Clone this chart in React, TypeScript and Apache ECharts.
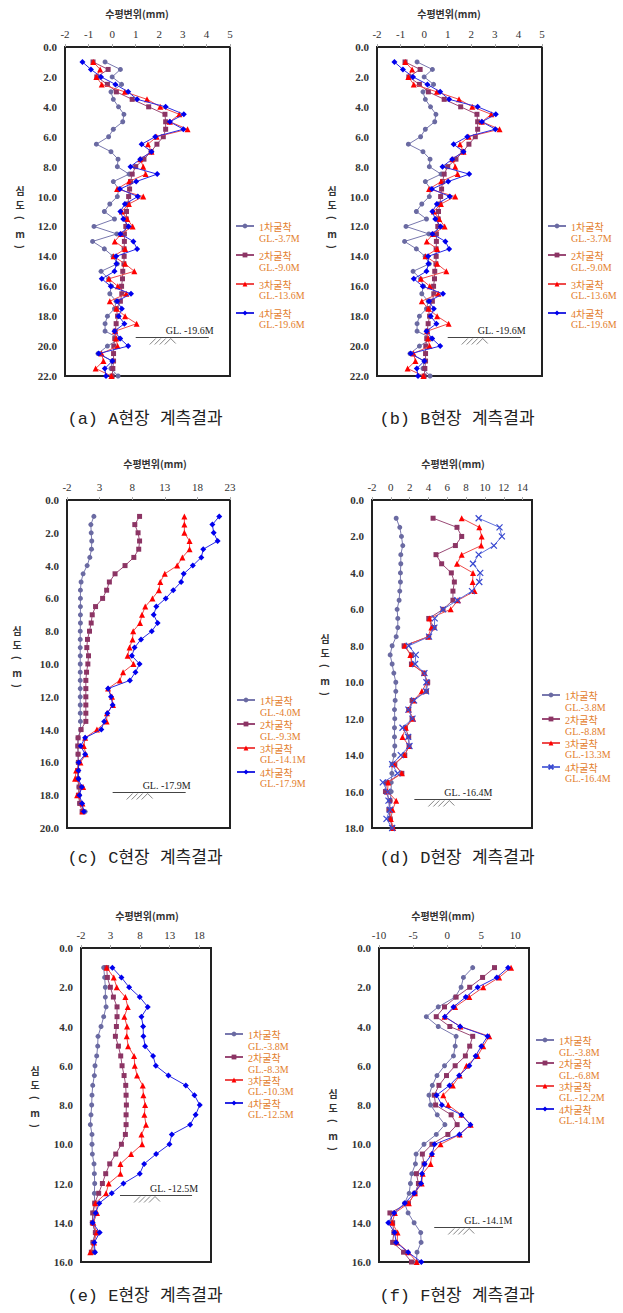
import React, { useEffect, useRef } from 'react';
import * as echarts from 'echarts';

// ---------- data ----------
const depthAB = [1.0, 1.5, 2.0, 2.5, 3.0, 3.5, 4.0, 4.5, 5.0, 5.5, 6.0, 6.5, 7.0, 7.5, 8.0, 8.5, 9.0, 9.5, 10.0, 10.5, 11.0, 11.5, 12.0, 12.5, 13.0, 13.5, 14.0, 14.5, 15.0, 15.5, 16.0, 16.5, 17.0, 17.5, 18.0, 18.5, 19.0, 19.5, 20.0, 20.5, 21.0, 21.5, 22.0];
const a1 = [-0.3, 0.35, 0.0, 0.4, -0.05, 0.05, 0.27, 0.5, 0.45, 0.05, -0.15, -0.67, -0.05, 0.25, 0.22, 0.72, 0.05, 0.28, 0.22, -0.1, -0.33, 0.1, -0.77, 0.2, -0.83, -0.33, 0.04, 0.22, -0.47, -0.15, -0.03, -0.1, 0.17, 0.1, -0.2, -0.3, -0.3, 0.33, -0.2, -0.6, 0.0, -0.05, 0.25];
const a2 = [-0.81, -0.17, -0.65, -0.2, 0.18, 0.85, 1.55, 2.24, 2.27, 2.27, 2.17, 1.9, 1.65, 1.35, 1.0, 0.85, 0.78, 0.74, 0.7, 0.67, 0.61, 0.6, 0.58, 0.52, 0.52, 0.51, 0.51, 0.5, 0.45, 0.44, 0.4, 0.41, 0.35, 0.18, 0.23, 0.17, 0.13, 0.11, 0.07, 0.06, 0.06, 0.03, 0.0];
const a3 = [-0.8, -0.51, -0.67, -0.44, 0.54, 1.48, 2.04, 2.85, 2.45, 3.2, 1.89, 1.52, 1.67, 1.19, 1.32, 1.42, 0.72, 0.21, 1.32, 0.71, 0.41, 0.64, 0.87, 0.38, 0.11, 0.55, 0.06, 0.55, 0.94, -0.14, 0.24, 0.6, -0.1, 0.18, 0.55, 1.04, 0.13, 0.17, 0.23, -0.45, -0.37, -0.7, -0.03];
const a4 = [-1.26, -0.9, -0.47, 0.14, 0.68, 1.06, 2.27, 3.04, 2.45, 3.02, 1.83, 1.25, 1.67, 1.19, 0.78, 1.91, 1.02, 0.33, 1.09, 0.54, 0.35, 0.47, 0.7, 0.35, 0.9, 1.06, 0.17, 0.18, 0.1, -0.44, -0.06, 0.8, 0.21, 0.41, 0.28, 0.52, 0.1, 0.34, 0.68, -0.57, 0.01, -0.31, -0.26];

const depthC = [1.0, 1.5, 2.0, 2.5, 3.0, 3.5, 4.0, 4.5, 5.0, 5.5, 6.0, 6.5, 7.0, 7.5, 8.0, 8.5, 9.0, 9.5, 10.0, 10.5, 11.0, 11.5, 12.0, 12.5, 13.0, 13.5, 14.0, 14.5, 15.0, 15.5, 16.0, 16.5, 17.0, 17.5, 18.0, 18.5, 19.0];
const c1 = [2.12, 1.66, 1.71, 1.8, 1.76, 1.5, 1.09, 0.47, 0.16, 0.06, 0.06, 0.06, 0.06, 0.06, 0.03, 0.03, 0.03, 0.03, 0.03, 0.03, 0.03, 0.03, 0.03, 0.03, 0.03, 0.06, 0.1, -0.3, -0.3, -0.3, -0.3, -0.35, -0.25, -0.15, -0.1, -0.05, 0.78];
const c2 = [9.13, 8.4, 8.9, 9.13, 9.0, 8.25, 6.9, 5.37, 4.5, 4.08, 3.46, 2.38, 1.87, 1.71, 1.45, 1.14, 1.04, 1.3, 1.2, 1.0, 0.89, 0.89, 0.89, 0.89, 0.89, 0.89, 0.16, -0.3, -0.35, -0.3, -0.25, -0.35, -0.4, -0.15, -0.25, -0.05, 0.32];
const c3 = [16.0, 16.0, 16.0, 16.8, 16.8, 15.7, 14.9, 13.0, 12.3, 12.1, 11.1, 10.0, 9.5, 9.2, 8.15, 8.05, 7.6, 7.3, 8.2, 6.6, 6.1, 4.3, 4.9, 5.06, 4.13, 4.08, 2.59, 0.78, 0.58, 0.89, 0.06, -0.6, -0.76, 0.47, -0.45, 0.37, 0.37];
const c4 = [21.35, 20.3, 20.5, 21.1, 18.9, 18.6, 17.3, 15.9, 15.5, 14.3, 13.15, 11.7, 11.3, 11.9, 11.0, 9.35, 8.36, 7.95, 9.13, 8.5, 7.64, 4.3, 4.75, 5.0, 4.2, 3.7, 3.26, 0.78, 0.11, 0.78, -0.2, -0.25, -0.25, 0.27, -0.1, 0.32, 0.58];

const depthD = [1.0, 1.5, 2.0, 2.5, 3.0, 3.5, 4.0, 4.5, 5.0, 5.5, 6.0, 6.5, 7.0, 7.5, 8.0, 8.5, 9.0, 9.5, 10.0, 10.5, 11.0, 11.5, 12.0, 12.5, 13.0, 13.5, 14.0, 14.5, 15.0, 15.5, 16.0, 16.5, 17.0, 17.5, 18.0];
const d1 = [0.57, 0.95, 1.13, 1.27, 1.06, 1.06, 1.02, 1.02, 0.95, 0.88, 0.67, 0.74, 0.74, 0.57, 0.14, -0.07, 0.14, 0.32, 0.53, 0.53, 0.46, 0.39, 0.42, 0.39, 0.39, 0.42, 0.35, 0.14, 0.11, 0.04, 0.04, -0.07, -0.1, -0.04, 0.14];
const d2 = [4.49, 7.03, 7.53, 6.86, 4.8, 5.4, 6.43, 6.75, 6.6, 6.6, 5.55, 4.03, 4.6, 4.03, 1.41, 2.19, 2.19, 3.53, 3.92, 3.78, 2.26, 1.9, 2.26, 1.55, 1.9, 1.94, 1.48, 0.42, 1.17, -0.46, -0.57, -0.1, -0.21, -0.07, 0.18];
const d3 = [7.53, 9.4, 9.65, 9.6, 7.53, 7.03, 8.73, 8.69, 8.9, 7.14, 6.36, 4.1, 4.31, 3.96, 1.48, 2.08, 2.23, 3.53, 3.85, 3.29, 2.44, 1.9, 2.37, 1.59, 1.24, 1.94, 1.45, 0.35, 1.17, -0.28, -0.35, 0.57, 0.18, 0.0, 0.25];
const d4 = [9.33, 11.55, 11.8, 10.95, 9.33, 8.73, 9.5, 9.4, 8.62, 7.07, 5.55, 4.66, 4.63, 4.06, 1.9, 2.65, 2.58, 3.57, 3.78, 3.75, 2.47, 1.87, 2.3, 1.24, 1.84, 1.98, 1.06, 0.14, 0.71, -0.85, -0.35, -0.25, -0.1, -0.46, 0.14];

const depthE = [1.0, 1.5, 2.0, 2.5, 3.0, 3.5, 4.0, 4.5, 5.0, 5.5, 6.0, 6.5, 7.0, 7.5, 8.0, 8.5, 9.0, 9.5, 10.0, 10.5, 11.0, 11.5, 12.0, 12.5, 13.0, 13.5, 14.0, 14.5, 15.0, 15.5];
const e1 = [1.84, 2.0, 2.12, 2.12, 2.24, 1.84, 1.39, 0.88, 0.82, 0.66, 0.37, 0.26, -0.02, -0.14, -0.19, -0.31, -0.42, -0.14, -0.14, -0.08, 0.2, 0.26, 0.32, 0.26, 0.32, 0.09, -0.08, 0.43, 0.03, 0.32];
const e2 = [2.35, 2.46, 2.97, 3.48, 4.1, 4.1, 3.99, 3.82, 4.33, 4.72, 4.95, 5.29, 5.57, 5.63, 5.68, 5.63, 5.63, 5.51, 4.84, 3.88, 2.86, 2.18, 1.62, 0.99, 0.32, -0.02, -0.08, 0.43, 0.03, -0.25];
const e3 = [2.35, 3.54, 4.05, 5.51, 5.91, 5.34, 5.8, 5.74, 5.97, 6.98, 7.1, 7.49, 8.45, 8.56, 8.85, 8.73, 9.0, 8.23, 8.34, 6.47, 4.67, 4.67, 2.69, 2.24, 0.43, 0.71, 0.09, 0.66, 0.2, -0.42];
const e4 = [3.31, 4.84, 6.14, 7.94, 9.3, 8.23, 8.51, 8.56, 8.85, 10.2, 10.66, 12.8, 15.74, 17.2, 18.1, 17.4, 16.47, 13.37, 12.97, 10.71, 8.68, 7.94, 5.18, 3.2, 1.1, 0.49, -0.02, 1.16, 0.26, 0.37];

const depthF = [1.0, 1.5, 2.0, 2.5, 3.0, 3.5, 4.0, 4.5, 5.0, 5.5, 6.0, 6.5, 7.0, 7.5, 8.0, 8.5, 9.0, 9.5, 10.0, 10.5, 11.0, 11.5, 12.0, 12.5, 13.0, 13.5, 14.0, 14.5, 15.0, 15.5, 16.0];
const f1 = [3.74, 2.38, 2.04, 1.17, -1.31, -3.06, -1.31, 1.31, 1.17, 0.92, -0.39, -1.5, -2.18, -2.67, -2.43, -1.46, -0.34, -1.6, -3.4, -4.56, -4.66, -5.19, -5.39, -5.58, -6.26, -5.73, -4.85, -3.88, -3.83, -4.42, -4.51];
const f2 = [6.94, 5.19, 3.3, 1.31, -0.39, -1.6, 0.39, 3.74, 3.3, 2.67, 1.17, -0.1, -1.21, -1.89, -1.7, 0.58, 1.46, 0.1, -2.23, -3.64, -3.4, -4.51, -4.22, -4.71, -5.68, -8.4, -8.0, -7.82, -8.0, -6.4, -5.24];
const f3 = [9.37, 7.62, 5.29, 3.25, 1.17, -0.39, 1.94, 6.17, 5.29, 4.47, 2.82, 1.84, 0.83, -0.58, 0.15, 2.09, 3.45, 1.84, -0.97, -2.28, -2.43, -3.59, -3.74, -4.76, -5.63, -7.67, -8.06, -7.28, -7.33, -5.68, -4.47];
const f4 = [8.93, 7.28, 4.47, 2.72, 0.92, -0.34, 1.89, 5.92, 5.0, 4.17, 3.25, 1.75, 0.34, -1.55, -0.78, 2.09, 3.4, 1.8, -1.84, -2.23, -3.3, -3.69, -3.83, -4.85, -6.21, -7.77, -8.64, -7.72, -7.48, -5.73, -3.79];

const namesAB = ['1차굴착\nGL.-3.7M', '2차굴착\nGL.-9.0M', '3차굴착\nGL.-13.6M', '4차굴착\nGL.-19.6M'];
const namesC = ['1차굴착\nGL.-4.0M', '2차굴착\nGL.-9.3M', '3차굴착\nGL.-14.1M', '4차굴착\nGL.-17.9M'];
const namesD = ['1차굴착\nGL.-3.8M', '2차굴착\nGL.-8.8M', '3차굴착\nGL.-13.3M', '4차굴착\nGL.-16.4M'];
const namesE = ['1차굴착\nGL.-3.8M', '2차굴착\nGL.-8.3M', '3차굴착\nGL.-10.3M', '4차굴착\nGL.-12.5M'];
const namesF = ['1차굴착\nGL.-3.8M', '2차굴착\nGL.-6.8M', '3차굴착\nGL.-12.2M', '4차굴착\nGL.-14.1M'];

const ticksAB = [-2, -1, 0, 1, 2, 3, 4, 5];
const ticksC = [-2, 3, 8, 13, 18, 23];
const ticksD = [-2, 0, 2, 4, 6, 8, 10, 12, 14];
const ticksE = [-2, 3, 8, 13, 18];
const ticksF = [-10, -5, 0, 5, 10];

const glLabels = ['GL. -19.6M', 'GL. -19.6M', 'GL. -17.9M', 'GL. -16.4M', 'GL. -12.5M', 'GL. -14.1M'];
const captions = ['(a) A현장 계측결과', '(b) B현장 계측결과', '(c) C현장 계측결과', '(d) D현장 계측결과', '(e) E현장 계측결과', '(f) F현장 계측결과'];
const axisTitle = '수평변위(mm)';

// ---------- styles / layout ----------
const SERIF = '"Liberation Serif", "Noto Sans CJK KR", serif';
const KR = '"Noto Sans CJK KR", "Liberation Serif", sans-serif';
const MONO = '"Liberation Mono", "Noto Sans CJK KR", monospace';
const ORANGE = '#E3802E';

const seriesStyles = [
  { symbol: 'circle', size: 5, item: '#6A6AA2', line: '#7878AE' },
  { symbol: 'rect', size: 5, item: '#8C3464', line: '#9A4A76' },
  { symbol: 'triangle', size: 6, item: '#FF0000', line: '#EE4A4A' },
  { symbol: 'diamond', size: 6, item: '#0000EE', line: '#2A2AE2' },
];
const crossStyle = { symbol: 'path://M0 0L10 10M10 0L0 10', size: 6, item: '#3848D0', line: '#6070DC' };

const panels = [
  { depths: depthAB, vals: [a1, a2, a3, a4], names: namesAB, ticks: ticksAB, xMin: -2, xMax: 5, yMax: 22, cross: false,
    grid: { left: 65, top: 47, width: 165, height: 329 }, legend: { left: 235, top: 222, gap: 8 },
    title: [137, 13], yname: [20, 190, 204, 218, 233, 247], caption: [145, 419], gl: [1.0, 4.1, 19.4] },
  { depths: depthAB, vals: [a1, a2, a3, a4], names: namesAB, ticks: ticksAB, xMin: -2, xMax: 5, yMax: 22, cross: false,
    grid: { left: 377, top: 47, width: 165, height: 329 }, legend: { left: 547, top: 222, gap: 8 },
    title: [449, 13], yname: [332, 190, 204, 218, 233, 247], caption: [457, 419], gl: [1.0, 4.1, 19.4] },
  { depths: depthC, vals: [c1, c2, c3, c4], names: namesC, ticks: ticksC, xMin: -2, xMax: 23, yMax: 20, cross: false,
    grid: { left: 67, top: 500, width: 163, height: 328 }, legend: { left: 236, top: 696, gap: 3 },
    title: [155, 463], yname: [17, 630, 644, 658, 672, 686], caption: [145, 858], gl: [5.0, 16.2, 17.8] },
  { depths: depthD, vals: [d1, d2, d3, d4], names: namesD, ticks: ticksD, xMin: -2, xMax: 15, yMax: 18, cross: true,
    grid: { left: 372, top: 500, width: 160, height: 328 }, legend: { left: 541, top: 691, gap: 3 },
    title: [453, 463], yname: [325, 638, 652, 666, 680, 694], caption: [457, 858], gl: [2.5, 10.6, 16.4] },
  { depths: depthE, vals: [e1, e2, e3, e4], names: namesE, ticks: ticksE, xMin: -2, xMax: 20, yMax: 16, cross: false,
    grid: { left: 81, top: 948, width: 130, height: 314 }, legend: { left: 224, top: 1030, gap: 2 },
    title: [147, 915], yname: [35, 1070, 1084, 1098, 1112, 1126], caption: [145, 1296], gl: [4.6, 16.8, 12.6] },
  { depths: depthF, vals: [f1, f2, f3, f4], names: namesF, ticks: ticksF, xMin: -10, xMax: 12, yMax: 16, cross: false,
    grid: { left: 379, top: 948, width: 150, height: 314 }, legend: { left: 535, top: 1036, gap: 2 },
    title: [443, 915], yname: [333, 1093, 1107, 1121, 1135, 1149], caption: [457, 1296], gl: [-1.9, 8.2, 14.2] },
];

function legendFormatter(name: string) {
  const parts = name.split('\n');
  return `{a|${parts[0]}}\n{b|${parts[1]}}`;
}

function buildOption() {
  const grid: any[] = [];
  const xAxis: any[] = [];
  const yAxis: any[] = [];
  const series: any[] = [];
  const legend: any[] = [];
  panels.forEach((p, i) => {
    grid.push({ ...p.grid, show: true, borderColor: '#222', borderWidth: 2, backgroundColor: 'transparent' });
    xAxis.push({
      type: 'value', gridIndex: i, position: 'top', min: p.xMin, max: p.xMax,
      axisLine: { show: false }, splitLine: { show: false },
      axisTick: { show: true, length: 3, customValues: p.ticks, lineStyle: { color: '#aaa' } },
      axisLabel: { customValues: p.ticks, margin: 8, fontSize: 11, color: '#333', fontFamily: SERIF },
    });
    yAxis.push({
      type: 'value', gridIndex: i, inverse: true, min: 0, max: p.yMax, interval: 2,
      axisLine: { show: false }, splitLine: { show: false }, axisTick: { show: false },
      axisLabel: { margin: 8, fontSize: 11, fontWeight: 'bold', color: '#333', fontFamily: SERIF, formatter: (v: number) => v.toFixed(1) },
    });
    p.vals.forEach((vals, k) => {
      const st = k === 3 && p.cross ? crossStyle : seriesStyles[k];
      series.push({
        type: 'line', name: p.names[k], xAxisIndex: i, yAxisIndex: i,
        data: vals.map((v, j) => [v, p.depths[j]]),
        symbol: st.symbol, symbolSize: st.size, showSymbol: true,
        lineStyle: { width: 1, color: st.line },
        itemStyle: k === 3 && p.cross ? { color: st.item, borderColor: st.item, borderWidth: 1.2 } : { color: st.item },
        emphasis: { disabled: true }, silent: true, z: 2 + k,
      });
    });
    legend.push({
      data: p.names, orient: 'vertical', left: p.legend.left, top: p.legend.top, padding: 0,
      itemGap: p.legend.gap, itemWidth: 18, itemHeight: 6, selectedMode: false,
      formatter: legendFormatter,
      textStyle: {
        color: ORANGE, fontSize: 10, fontFamily: SERIF,
        rich: {
          a: { color: ORANGE, fontSize: 10, fontFamily: SERIF, lineHeight: 24, verticalAlign: 'bottom' },
          b: { color: ORANGE, fontSize: 10, fontFamily: SERIF, lineHeight: 12 },
        },
      },
    });
  });
  return { animation: false, backgroundColor: '#fff', grid, xAxis, yAxis, series, legend };
}

export default function App() {
  const ref = useRef<HTMLDivElement>(null);
  useEffect(() => {
    document.body.style.margin = '0';
    if (!ref.current) return;
    const chart = echarts.init(ref.current, undefined, { renderer: 'svg' });
    chart.setOption(buildOption());
    const g: any[] = [];
    panels.forEach((p, i) => {
      g.push({ type: 'text', x: p.title[0], y: p.title[1], silent: true,
        style: { text: axisTitle, align: 'center', verticalAlign: 'middle', fontSize: 10, fontWeight: 'bold', fontFamily: KR, fill: '#333' } });
      const chars = ['심', '도', '(', 'm', ')'];
      chars.forEach((c, k) => {
        const paren = c === '(' || c === ')';
        g.push({ type: 'text', x: p.yname[0], y: p.yname[k + 1], rotation: paren ? -Math.PI / 2 : 0, silent: true,
          style: { text: c, align: 'center', verticalAlign: 'middle', fontSize: 10, fontWeight: 'bold', fontFamily: KR, fill: '#333' } });
      });
      g.push({ type: 'text', x: p.caption[0], y: p.caption[1], silent: true,
        style: { text: captions[i], align: 'center', verticalAlign: 'middle', fontSize: 17, fontFamily: MONO, fill: '#222' } });
      const s = chart.convertToPixel({ gridIndex: i } as any, [p.gl[0], p.gl[2]]) as number[];
      const e = chart.convertToPixel({ gridIndex: i } as any, [p.gl[1], p.gl[2]]) as number[];
      const y = Math.round(s[1]) + 0.5;
      g.push({ type: 'line', silent: true, shape: { x1: s[0], y1: y, x2: e[0], y2: y }, style: { stroke: '#444', lineWidth: 1 } });
      g.push({ type: 'text', x: s[0] + 30, y: y - 2, silent: true,
        style: { text: glLabels[i], align: 'left', verticalAlign: 'bottom', fontSize: 10, fontFamily: SERIF, fill: '#222' } });
      [14, 19, 24, 29].forEach((dx) => {
        g.push({ type: 'line', silent: true, shape: { x1: s[0] + dx + 6, y1: y + 1, x2: s[0] + dx, y2: y + 7 }, style: { stroke: '#666', lineWidth: 0.8 } });
      });
      g.push({ type: 'line', silent: true, shape: { x1: s[0] + 35, y1: y + 1, x2: s[0] + 40, y2: y + 6 }, style: { stroke: '#666', lineWidth: 0.8 } });
    });
    chart.setOption({ graphic: g });
    return () => chart.dispose();
  }, []);
  return <div ref={ref} style={{ width: 623, height: 1313 }} />;
}
